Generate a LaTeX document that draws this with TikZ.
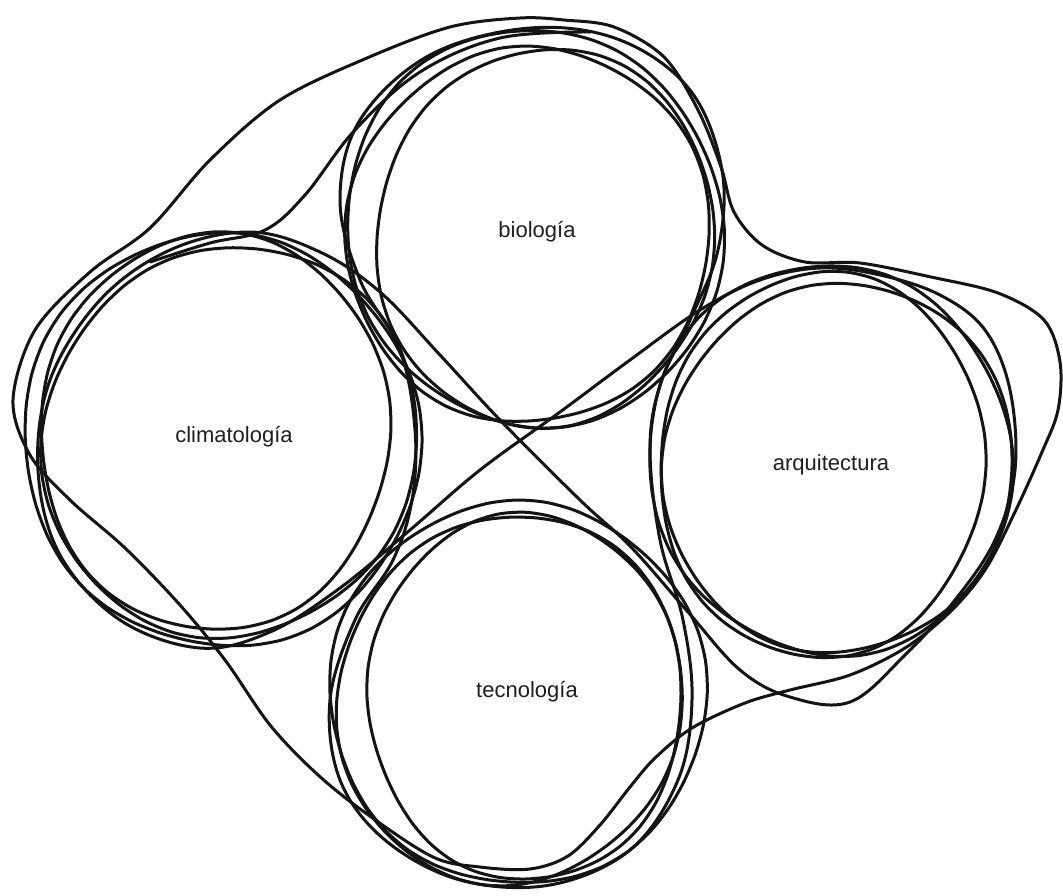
\documentclass[tikz,border=0pt]{standalone}
\usepackage{fontspec}
\setmainfont{Liberation Sans}
\begin{document}
\begin{tikzpicture}[x=1pt,y=-1pt,
  hand/.style={line width=3pt,line join=round,line cap=round,color=black!92},
  lbl/.style={font=\fontsize{22}{26}\selectfont,text=black!88,inner sep=0pt}]
\newcommand\hloop[7]{%
  \draw[hand] plot[smooth cycle,samples=40,domain=0:351,variable=\t]
  ({#1+#3*cos(\t)*(1+#5*sin(2*\t+#6)+#7*sin(5*\t+2*#6))},
   {#2+#4*sin(\t)*(1+#5*sin(2*\t+#6)+#7*sin(5*\t+2*#6))});}
\fill[white] (0,0) rectangle (1063,895);
\useasboundingbox (0,0) rectangle (1063,895);
% biologia loops
\hloop{535}{228}{187}{200}{0.02}{20}{0.008}
\hloop{528}{235}{178}{192}{0.025}{110}{0.01}
\hloop{545}{238}{170}{188}{0.02}{200}{0.008}
% climatologia loops
\hloop{222}{440}{195}{210}{0.02}{60}{0.01}
\hloop{230}{442}{185}{198}{0.03}{150}{0.008}
\hloop{215}{432}{178}{195}{0.02}{250}{0.01}
% arquitectura loops
\hloop{830}{460}{180}{197}{0.02}{30}{0.01}
\hloop{838}{468}{172}{188}{0.025}{130}{0.008}
\hloop{822}{465}{165}{190}{0.02}{230}{0.01}
% tecnologia loops
\hloop{518}{693}{185}{195}{0.02}{80}{0.01}
\hloop{510}{700}{172}{185}{0.025}{170}{0.008}
\hloop{525}{697}{160}{180}{0.02}{290}{0.01}
% outer blob
\draw[hand] plot[smooth cycle,tension=0.55] coordinates {
 (13,400) (35,330) (90,272) (150,228) (210,160) (280,100) (367,58) (450,27)
 (520,18) (564,20) (614,27) (664,57) (698,110) (721,167) (734,212) (762,245)
 (805,262) (860,263) (931,277) (998,293) (1044,320) (1060,362) (1058,410)
 (1042,452) (1014,514) (985,570) (950,612) (905,648) (850,675) (790,690)
 (745,703) (692,728) (655,758) (630,787) (600,825) (568,856) (530,869)
 (480,867) (433,857) (367,814) (317,774) (270,725) (225,660) (180,605)
 (125,548) (70,500) (30,455)};
% lemniscate climatologia - arquitectura
\draw[hand] plot[smooth cycle,tension=0.6] coordinates {
 (580,500) (631,547) (688,612) (740,670) (790,697) (850,702) (905,655)
 (955,600) (995,540) (1015,470) (1010,390) (985,330) (940,295) (880,275)
 (820,268) (760,280) (700,310) (630,360) (560,412) (480,470) (410,530)
 (340,588) (270,632) (200,648) (120,620) (60,555) (38,470) (50,380)
 (100,300) (170,250) (250,232) (320,252) (380,292) (440,355) (500,420)};
% peanut biologia - tecnologia
\draw[hand] plot[smooth cycle,tension=0.6] coordinates {
 (530,28) (620,40) (690,90) (722,170) (718,250) (690,320) (660,385)
 (650,450) (660,540) (683,620) (692,700) (678,780) (630,850) (550,885)
 (460,880) (385,840) (340,780) (330,700) (355,620) (393,560) (412,500)
 (415,430) (400,350) (360,280) (340,200) (360,120) (430,55)};
% link biologia - climatologia
\draw[hand] plot[smooth,tension=0.6] coordinates {
 (590,32) (500,38) (420,72) (355,130) (305,195) (265,230) (210,243) (150,262)};
% labels
\node[lbl] (bio) at (537,232) {biología};
\node[lbl] (cli) at (234,437) {climatología};
\node[lbl] (arq) at (831,465) {arquitectura};
\node[lbl] (tec) at (527,692) {tecnología};
\end{tikzpicture}
\end{document}
